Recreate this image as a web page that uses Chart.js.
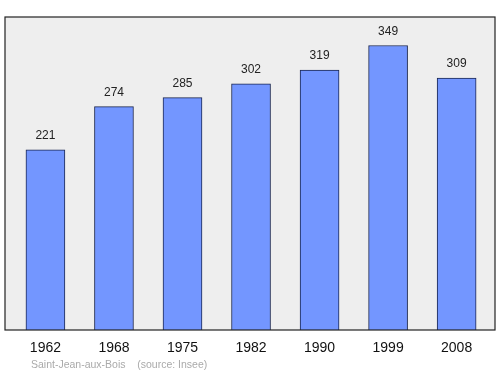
<!DOCTYPE html>
<html>
<head>
<meta charset="utf-8">
<script src="https://cdn.jsdelivr.net/npm/chart.js@4/dist/chart.umd.min.js"></script>
<style>
  html, body { margin: 0; padding: 0; background: #fff; }
  #wrap { width: 500px; height: 374px; }
</style>
</head>
<body>
<div id="wrap"><canvas id="popChart" width="500" height="374"></canvas></div>
<script>
// Population data (Insee)
const years = ['1962', '1968', '1975', '1982', '1990', '1999', '2008'];
const population = [221, 274, 285, 302, 319, 349, 309];
const footerText = 'Saint-Jean-aux-Bois    (source: Insee)';

// frame + background of the plot area
const framePlugin = {
    id: 'frame',
    beforeDraw(chart) {
        const { ctx, chartArea: a } = chart;
        ctx.save();
        ctx.fillStyle = '#eeeeee';
        ctx.fillRect(a.left, a.top, a.right - a.left, a.bottom - a.top);
        ctx.restore();
    },
    afterDraw(chart) {
        const { ctx, chartArea: a } = chart;
        ctx.save();
        ctx.strokeStyle = '#222';
        ctx.lineWidth = 1.2;
        ctx.strokeRect(a.left, a.top, a.right - a.left, a.bottom - a.top);
        // footer
        ctx.fillStyle = '#aaaaaa';
        ctx.font = '10.5px "Liberation Sans", Arial, sans-serif';
        ctx.textBaseline = 'middle';
        ctx.fillText(footerText, 31, 365);
        ctx.restore();
    }
};

// value labels above each bar
const valueLabels = {
    id: 'valueLabels',
    afterDatasetsDraw(chart) {
        const { ctx } = chart;
        const meta = chart.getDatasetMeta(0);
        ctx.save();
        ctx.fillStyle = '#222';
        ctx.font = '12px "Liberation Sans", Arial, sans-serif';
        ctx.textAlign = 'center';
        ctx.textBaseline = 'middle';
        meta.data.forEach((bar, i) => {
            ctx.fillText(String(population[i]), bar.x, bar.y - 14);
        });
        ctx.restore();
    }
};

new Chart(document.getElementById('popChart'), {
    type: 'bar',
    data: {
        datasets: [{
            data: population.map((v, i) => ({ x: i, y: v })),
            backgroundColor: '#7396ff',
            borderColor: '#1a2650',
            borderWidth: 1,
            barThickness: 39
        }]
    },
    options: {
        responsive: false,
        animation: false,
        layout: { padding: { left: 5, right: 5, top: 17, bottom: 0 } },
        plugins: {
            legend: { display: false },
            tooltip: { enabled: false }
        },
        scales: {
            x: {
                type: 'linear',
                offset: false,
                min: -0.59,
                max: 6.56,
                grid: { display: false, drawTicks: false },
                border: { display: false },
                afterFit: (scale) => { scale.height = 44; },
                afterBuildTicks: (scale) => {
                    scale.ticks = years.map((y, i) => ({ value: i }));
                },
                ticks: {
                    padding: 10,
                    color: '#111',
                    font: { size: 14, family: '"Liberation Sans", Arial, sans-serif' },
                    callback: (v) => years[v]
                }
            },
            y: {
                display: false,
                min: 0,
                max: 384
            }
        }
    },
    plugins: [framePlugin, valueLabels]
});
</script>
</body>
</html>
